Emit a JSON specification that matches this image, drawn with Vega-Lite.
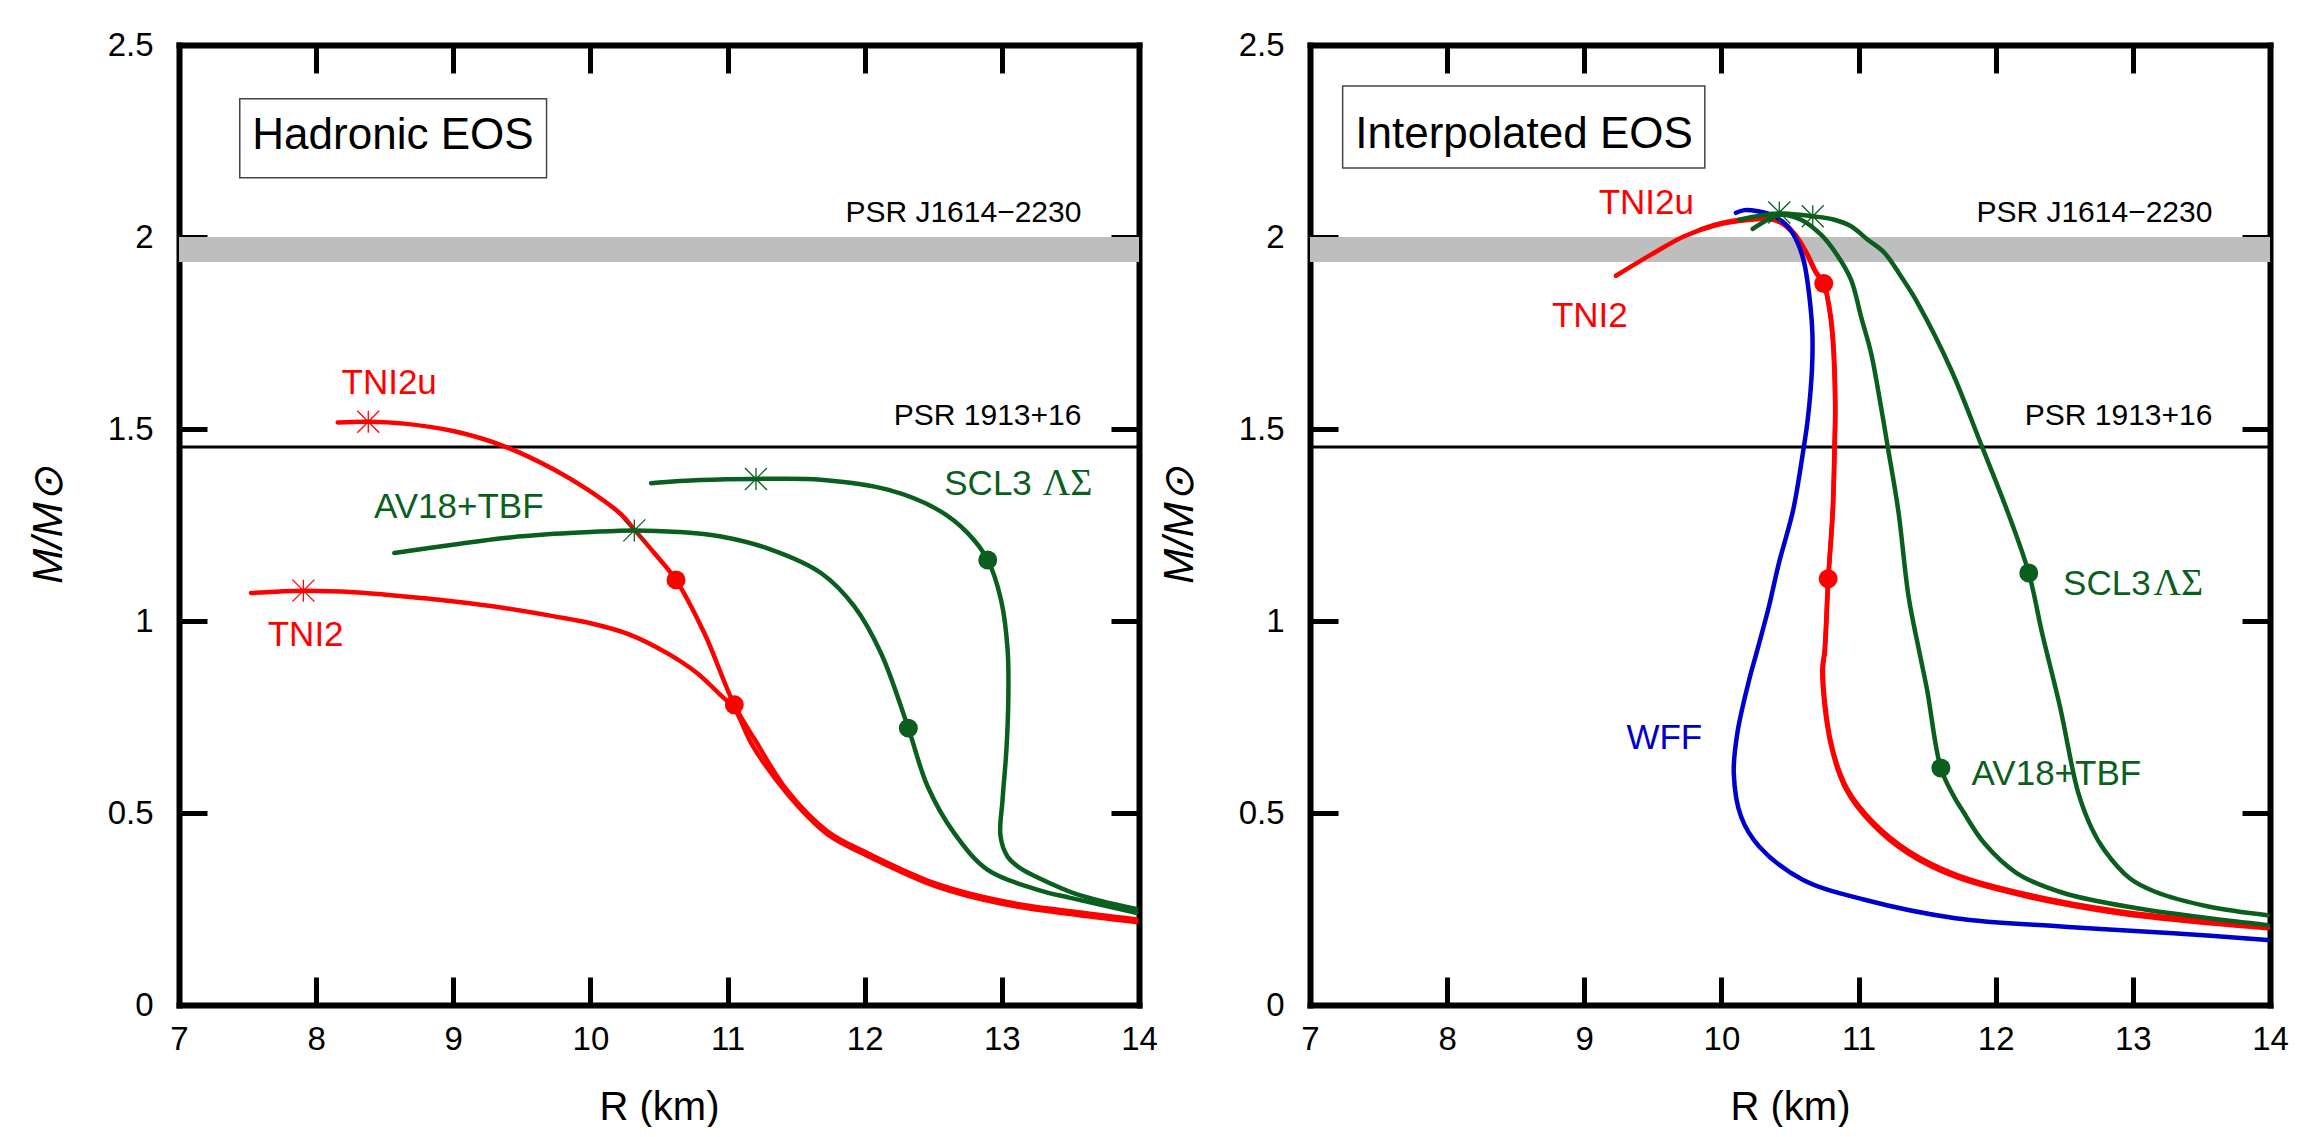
{
  "$schema": "https://vega.github.io/schema/vega-lite/v6.json",
  "background": "white",
  "padding": {"left": 27, "top": 29, "right": 0, "bottom": 0},
  "bounds": "flush",
  "spacing": 171,
  "config": {
    "view": {"stroke": null},
    "font": "Liberation Sans",
    "axis": {
      "grid": false,
      "domain": true,
      "domainColor": "black",
      "domainWidth": 6,
      "domainCap": "square",
      "tickColor": "black",
      "tickWidth": 5,
      "tickSize": -28,
      "labelFont": "Liberation Sans",
      "labelFontSize": 33,
      "labelColor": "black",
      "labelFlush": false,
      "labelOverlap": false,
      "labelBound": false,
      "zindex": 1,
      "titleFont": "Liberation Sans",
      "titleColor": "black",
      "titleFontWeight": "normal"
    }
  },
  "datasets": {
    "bands": [{"R1": 7, "R2": 14, "M1": 1.935, "M2": 2.0}],
    "psr": [{"M": 1.453}],
    "psrText": [
      {"text": "PSR J1614\u22122230", "R": 13.58, "M": 2.038},
      {"text": "PSR 1913+16", "R": 13.58, "M": 1.511}
    ],
    "boxes": [
      {"panel": "L", "title": "Hadronic EOS", "R1": 7.443, "R2": 9.680, "M1": 2.154, "M2": 2.360, "Rt": 8.560, "Mt": 2.228},
      {"panel": "R", "title": "Interpolated EOS", "R1": 7.238, "R2": 9.879, "M1": 2.180, "M2": 2.393, "Rt": 8.561, "Mt": 2.232}
    ],
    "labels": [
      {"panel": "L", "model": "TNI2u", "text": "TNI2u", "R": 8.185, "M": 1.592},
      {"panel": "L", "model": "TNI2", "text": "TNI2", "R": 7.647, "M": 0.934},
      {"panel": "L", "model": "AV18", "text": "AV18+TBF", "R": 8.422, "M": 1.269},
      {"panel": "L", "model": "SCL3", "text": "SCL3", "R": 12.580, "M": 1.329},
      {"panel": "R", "model": "TNI2u", "text": "TNI2u", "R": 9.105, "M": 2.060},
      {"panel": "R", "model": "TNI2", "text": "TNI2", "R": 8.764, "M": 1.766},
      {"panel": "R", "model": "WFF", "text": "WFF", "R": 9.307, "M": 0.667},
      {"panel": "R", "model": "AV18", "text": "AV18+TBF", "R": 11.824, "M": 0.573},
      {"panel": "R", "model": "SCL3", "text": "SCL3", "R": 12.491, "M": 1.069}
    ],
    "greek": [
      {"panel": "L", "model": "SCL3", "text": "\u039b\u03a3", "R": 13.298, "M": 1.329},
      {"panel": "R", "model": "SCL3", "text": "\u039b\u03a3", "R": 13.15, "M": 1.069}
    ],
    "points": [
      {"panel": "L", "model": "TNI2u", "kind": "dot", "R": 10.624, "M": 1.107},
      {"panel": "L", "model": "TNI2", "kind": "dot", "R": 11.049, "M": 0.782},
      {"panel": "L", "model": "AV18", "kind": "dot", "R": 12.318, "M": 0.721},
      {"panel": "L", "model": "SCL3", "kind": "dot", "R": 12.897, "M": 1.159},
      {"panel": "R", "model": "TNI2", "kind": "dot", "R": 10.746, "M": 1.879},
      {"panel": "R", "model": "TNI2u", "kind": "dot", "R": 10.778, "M": 1.110},
      {"panel": "R", "model": "AV18", "kind": "dot", "R": 11.60, "M": 0.617},
      {"panel": "R", "model": "SCL3", "kind": "dot", "R": 12.241, "M": 1.125},
      {"panel": "L", "model": "TNI2u", "kind": "star", "R": 8.380, "M": 1.519},
      {"panel": "L", "model": "TNI2", "kind": "star", "R": 7.907, "M": 1.079},
      {"panel": "L", "model": "AV18", "kind": "star", "R": 10.320, "M": 1.236},
      {"panel": "L", "model": "SCL3", "kind": "star", "R": 11.207, "M": 1.370},
      {"panel": "R", "model": "AV18", "kind": "star", "R": 10.422, "M": 2.064},
      {"panel": "R", "model": "SCL3", "kind": "star", "R": 10.666, "M": 2.054}
    ],
    "curves": [
      {"panel": "L", "model": "TNI2", "seq": 0, "R": 7.525, "M": 1.073},
      {"panel": "L", "model": "TNI2", "seq": 1, "R": 7.907, "M": 1.079},
      {"panel": "L", "model": "TNI2", "seq": 2, "R": 8.279, "M": 1.075},
      {"panel": "L", "model": "TNI2", "seq": 3, "R": 8.643, "M": 1.064},
      {"panel": "L", "model": "TNI2", "seq": 4, "R": 9.008, "M": 1.051},
      {"panel": "L", "model": "TNI2", "seq": 5, "R": 9.372, "M": 1.034},
      {"panel": "L", "model": "TNI2", "seq": 6, "R": 9.737, "M": 1.012},
      {"panel": "L", "model": "TNI2", "seq": 7, "R": 9.990, "M": 0.995},
      {"panel": "L", "model": "TNI2", "seq": 8, "R": 10.277, "M": 0.966},
      {"panel": "L", "model": "TNI2", "seq": 9, "R": 10.556, "M": 0.917},
      {"panel": "L", "model": "TNI2", "seq": 10, "R": 10.779, "M": 0.864},
      {"panel": "L", "model": "TNI2", "seq": 11, "R": 10.946, "M": 0.808},
      {"panel": "L", "model": "TNI2", "seq": 12, "R": 11.049, "M": 0.772},
      {"panel": "L", "model": "TNI2", "seq": 13, "R": 11.18, "M": 0.677},
      {"panel": "L", "model": "TNI2", "seq": 14, "R": 11.44, "M": 0.548},
      {"panel": "L", "model": "TNI2", "seq": 15, "R": 11.73, "M": 0.444},
      {"panel": "L", "model": "TNI2", "seq": 16, "R": 12.03, "M": 0.387},
      {"panel": "L", "model": "TNI2", "seq": 17, "R": 12.52, "M": 0.309},
      {"panel": "L", "model": "TNI2", "seq": 18, "R": 13.01, "M": 0.263},
      {"panel": "L", "model": "TNI2", "seq": 19, "R": 13.5, "M": 0.237},
      {"panel": "L", "model": "TNI2", "seq": 20, "R": 13.98, "M": 0.216},

      {"panel": "L", "model": "TNI2u", "seq": 0, "R": 8.157, "M": 1.517},
      {"panel": "L", "model": "TNI2u", "seq": 1, "R": 8.380, "M": 1.519},
      {"panel": "L", "model": "TNI2u", "seq": 2, "R": 8.643, "M": 1.514},
      {"panel": "L", "model": "TNI2u", "seq": 3, "R": 9.008, "M": 1.494},
      {"panel": "L", "model": "TNI2u", "seq": 4, "R": 9.372, "M": 1.455},
      {"panel": "L", "model": "TNI2u", "seq": 5, "R": 9.737, "M": 1.394},
      {"panel": "L", "model": "TNI2u", "seq": 6, "R": 9.980, "M": 1.342},
      {"panel": "L", "model": "TNI2u", "seq": 7, "R": 10.223, "M": 1.278},
      {"panel": "L", "model": "TNI2u", "seq": 8, "R": 10.320, "M": 1.238},
      {"panel": "L", "model": "TNI2u", "seq": 9, "R": 10.47, "M": 1.175},
      {"panel": "L", "model": "TNI2u", "seq": 10, "R": 10.624, "M": 1.107},
      {"panel": "L", "model": "TNI2u", "seq": 11, "R": 10.831, "M": 0.968},
      {"panel": "L", "model": "TNI2u", "seq": 12, "R": 11.049, "M": 0.782},
      {"panel": "L", "model": "TNI2u", "seq": 13, "R": 11.20, "M": 0.690},
      {"panel": "L", "model": "TNI2u", "seq": 14, "R": 11.44, "M": 0.556},
      {"panel": "L", "model": "TNI2u", "seq": 15, "R": 11.73, "M": 0.452},
      {"panel": "L", "model": "TNI2u", "seq": 16, "R": 12.03, "M": 0.394},
      {"panel": "L", "model": "TNI2u", "seq": 17, "R": 12.52, "M": 0.316},
      {"panel": "L", "model": "TNI2u", "seq": 18, "R": 13.01, "M": 0.270},
      {"panel": "L", "model": "TNI2u", "seq": 19, "R": 13.5, "M": 0.244},
      {"panel": "L", "model": "TNI2u", "seq": 20, "R": 13.98, "M": 0.223},

      {"panel": "L", "model": "AV18", "seq": 0, "R": 8.570, "M": 1.177},
      {"panel": "L", "model": "AV18", "seq": 1, "R": 9.008, "M": 1.199},
      {"panel": "L", "model": "AV18", "seq": 2, "R": 9.372, "M": 1.216},
      {"panel": "L", "model": "AV18", "seq": 3, "R": 9.737, "M": 1.227},
      {"panel": "L", "model": "AV18", "seq": 4, "R": 10.0, "M": 1.232},
      {"panel": "L", "model": "AV18", "seq": 5, "R": 10.320, "M": 1.236},
      {"panel": "L", "model": "AV18", "seq": 6, "R": 10.64, "M": 1.232},
      {"panel": "L", "model": "AV18", "seq": 7, "R": 10.952, "M": 1.220},
      {"panel": "L", "model": "AV18", "seq": 8, "R": 11.317, "M": 1.186},
      {"panel": "L", "model": "AV18", "seq": 9, "R": 11.681, "M": 1.125},
      {"panel": "L", "model": "AV18", "seq": 10, "R": 11.924, "M": 1.038},
      {"panel": "L", "model": "AV18", "seq": 11, "R": 12.119, "M": 0.916},
      {"panel": "L", "model": "AV18", "seq": 12, "R": 12.318, "M": 0.721},
      {"panel": "L", "model": "AV18", "seq": 13, "R": 12.459, "M": 0.569},
      {"panel": "L", "model": "AV18", "seq": 14, "R": 12.654, "M": 0.447},
      {"panel": "L", "model": "AV18", "seq": 15, "R": 12.897, "M": 0.352},
      {"panel": "L", "model": "AV18", "seq": 16, "R": 13.262, "M": 0.300},
      {"panel": "L", "model": "AV18", "seq": 17, "R": 13.5, "M": 0.279},
      {"panel": "L", "model": "AV18", "seq": 18, "R": 13.98, "M": 0.240},

      {"panel": "L", "model": "SCL3", "seq": 0, "R": 10.442, "M": 1.359},
      {"panel": "L", "model": "SCL3", "seq": 1, "R": 10.8, "M": 1.367},
      {"panel": "L", "model": "SCL3", "seq": 2, "R": 11.207, "M": 1.370},
      {"panel": "L", "model": "SCL3", "seq": 3, "R": 11.681, "M": 1.368},
      {"panel": "L", "model": "SCL3", "seq": 4, "R": 12.168, "M": 1.342},
      {"panel": "L", "model": "SCL3", "seq": 5, "R": 12.532, "M": 1.290},
      {"panel": "L", "model": "SCL3", "seq": 6, "R": 12.751, "M": 1.229},
      {"panel": "L", "model": "SCL3", "seq": 7, "R": 12.897, "M": 1.159},
      {"panel": "L", "model": "SCL3", "seq": 8, "R": 12.994, "M": 1.055},
      {"panel": "L", "model": "SCL3", "seq": 9, "R": 13.042, "M": 0.925},
      {"panel": "L", "model": "SCL3", "seq": 10, "R": 13.047, "M": 0.795},
      {"panel": "L", "model": "SCL3", "seq": 11, "R": 13.033, "M": 0.664},
      {"panel": "L", "model": "SCL3", "seq": 12, "R": 13.005, "M": 0.534},
      {"panel": "L", "model": "SCL3", "seq": 13, "R": 12.99, "M": 0.440},
      {"panel": "L", "model": "SCL3", "seq": 14, "R": 13.042, "M": 0.386},
      {"panel": "L", "model": "SCL3", "seq": 15, "R": 13.131, "M": 0.357},
      {"panel": "L", "model": "SCL3", "seq": 16, "R": 13.262, "M": 0.332},
      {"panel": "L", "model": "SCL3", "seq": 17, "R": 13.55, "M": 0.288},
      {"panel": "L", "model": "SCL3", "seq": 18, "R": 13.98, "M": 0.250},

      {"panel": "R", "model": "TNI2", "seq": 0, "R": 9.231, "M": 1.899},
      {"panel": "R", "model": "TNI2", "seq": 1, "R": 9.487, "M": 1.954},
      {"panel": "R", "model": "TNI2", "seq": 2, "R": 9.729, "M": 2.002},
      {"panel": "R", "model": "TNI2", "seq": 3, "R": 9.973, "M": 2.032},
      {"panel": "R", "model": "TNI2", "seq": 4, "R": 10.216, "M": 2.045},
      {"panel": "R", "model": "TNI2", "seq": 5, "R": 10.337, "M": 2.047},
      {"panel": "R", "model": "TNI2", "seq": 6, "R": 10.434, "M": 2.037},
      {"panel": "R", "model": "TNI2", "seq": 7, "R": 10.532, "M": 2.006},
      {"panel": "R", "model": "TNI2", "seq": 8, "R": 10.617, "M": 1.959},
      {"panel": "R", "model": "TNI2", "seq": 9, "R": 10.690, "M": 1.906},
      {"panel": "R", "model": "TNI2", "seq": 10, "R": 10.746, "M": 1.879},
      {"panel": "R", "model": "TNI2", "seq": 11, "R": 10.787, "M": 1.811},
      {"panel": "R", "model": "TNI2", "seq": 12, "R": 10.810, "M": 1.740},
      {"panel": "R", "model": "TNI2", "seq": 13, "R": 10.829, "M": 1.563},
      {"panel": "R", "model": "TNI2", "seq": 14, "R": 10.824, "M": 1.453},
      {"panel": "R", "model": "TNI2", "seq": 15, "R": 10.811, "M": 1.289},
      {"panel": "R", "model": "TNI2", "seq": 16, "R": 10.778, "M": 1.110},
      {"panel": "R", "model": "TNI2", "seq": 17, "R": 10.752, "M": 0.923},
      {"panel": "R", "model": "TNI2", "seq": 18, "R": 10.735, "M": 0.870},
      {"panel": "R", "model": "TNI2", "seq": 19, "R": 10.795, "M": 0.682},
      {"panel": "R", "model": "TNI2", "seq": 20, "R": 10.911, "M": 0.560},
      {"panel": "R", "model": "TNI2", "seq": 21, "R": 11.096, "M": 0.473},
      {"panel": "R", "model": "TNI2", "seq": 22, "R": 11.361, "M": 0.395},
      {"panel": "R", "model": "TNI2", "seq": 23, "R": 11.706, "M": 0.334},
      {"panel": "R", "model": "TNI2", "seq": 24, "R": 12.235, "M": 0.282},
      {"panel": "R", "model": "TNI2", "seq": 25, "R": 12.897, "M": 0.239},
      {"panel": "R", "model": "TNI2", "seq": 26, "R": 13.559, "M": 0.213},
      {"panel": "R", "model": "TNI2", "seq": 27, "R": 13.983, "M": 0.200},

      {"panel": "R", "model": "TNI2u", "seq": 0, "R": 9.85, "M": 2.020},
      {"panel": "R", "model": "TNI2u", "seq": 1, "R": 9.973, "M": 2.034},
      {"panel": "R", "model": "TNI2u", "seq": 2, "R": 10.216, "M": 2.048},
      {"panel": "R", "model": "TNI2u", "seq": 3, "R": 10.337, "M": 2.050},
      {"panel": "R", "model": "TNI2u", "seq": 4, "R": 10.434, "M": 2.040},
      {"panel": "R", "model": "TNI2u", "seq": 5, "R": 10.532, "M": 2.009},
      {"panel": "R", "model": "TNI2u", "seq": 6, "R": 10.617, "M": 1.962},
      {"panel": "R", "model": "TNI2u", "seq": 7, "R": 10.690, "M": 1.909},
      {"panel": "R", "model": "TNI2u", "seq": 8, "R": 10.746, "M": 1.879},
      {"panel": "R", "model": "TNI2u", "seq": 9, "R": 10.790, "M": 1.811},
      {"panel": "R", "model": "TNI2u", "seq": 10, "R": 10.813, "M": 1.740},
      {"panel": "R", "model": "TNI2u", "seq": 11, "R": 10.831, "M": 1.563},
      {"panel": "R", "model": "TNI2u", "seq": 12, "R": 10.826, "M": 1.453},
      {"panel": "R", "model": "TNI2u", "seq": 13, "R": 10.813, "M": 1.289},
      {"panel": "R", "model": "TNI2u", "seq": 14, "R": 10.780, "M": 1.110},
      {"panel": "R", "model": "TNI2u", "seq": 15, "R": 10.755, "M": 0.923},
      {"panel": "R", "model": "TNI2u", "seq": 16, "R": 10.740, "M": 0.870},
      {"panel": "R", "model": "TNI2u", "seq": 17, "R": 10.800, "M": 0.682},
      {"panel": "R", "model": "TNI2u", "seq": 18, "R": 10.918, "M": 0.562},
      {"panel": "R", "model": "TNI2u", "seq": 19, "R": 11.103, "M": 0.477},
      {"panel": "R", "model": "TNI2u", "seq": 20, "R": 11.368, "M": 0.400},
      {"panel": "R", "model": "TNI2u", "seq": 21, "R": 11.713, "M": 0.339},
      {"panel": "R", "model": "TNI2u", "seq": 22, "R": 12.240, "M": 0.287},
      {"panel": "R", "model": "TNI2u", "seq": 23, "R": 12.900, "M": 0.244},
      {"panel": "R", "model": "TNI2u", "seq": 24, "R": 13.560, "M": 0.218},
      {"panel": "R", "model": "TNI2u", "seq": 25, "R": 13.983, "M": 0.205},

      {"panel": "R", "model": "WFF", "seq": 0, "R": 10.106, "M": 2.063},
      {"panel": "R", "model": "WFF", "seq": 1, "R": 10.167, "M": 2.070},
      {"panel": "R", "model": "WFF", "seq": 2, "R": 10.265, "M": 2.067},
      {"panel": "R", "model": "WFF", "seq": 3, "R": 10.386, "M": 2.054},
      {"panel": "R", "model": "WFF", "seq": 4, "R": 10.483, "M": 2.028},
      {"panel": "R", "model": "WFF", "seq": 5, "R": 10.556, "M": 1.985},
      {"panel": "R", "model": "WFF", "seq": 6, "R": 10.604, "M": 1.932},
      {"panel": "R", "model": "WFF", "seq": 7, "R": 10.641, "M": 1.846},
      {"panel": "R", "model": "WFF", "seq": 8, "R": 10.663, "M": 1.750},
      {"panel": "R", "model": "WFF", "seq": 9, "R": 10.660, "M": 1.654},
      {"panel": "R", "model": "WFF", "seq": 10, "R": 10.629, "M": 1.524},
      {"panel": "R", "model": "WFF", "seq": 11, "R": 10.595, "M": 1.440},
      {"panel": "R", "model": "WFF", "seq": 12, "R": 10.523, "M": 1.289},
      {"panel": "R", "model": "WFF", "seq": 13, "R": 10.420, "M": 1.152},
      {"panel": "R", "model": "WFF", "seq": 14, "R": 10.343, "M": 1.033},
      {"panel": "R", "model": "WFF", "seq": 15, "R": 10.262, "M": 0.925},
      {"panel": "R", "model": "WFF", "seq": 16, "R": 10.196, "M": 0.838},
      {"panel": "R", "model": "WFF", "seq": 17, "R": 10.116, "M": 0.708},
      {"panel": "R", "model": "WFF", "seq": 18, "R": 10.090, "M": 0.604},
      {"panel": "R", "model": "WFF", "seq": 19, "R": 10.143, "M": 0.491},
      {"panel": "R", "model": "WFF", "seq": 20, "R": 10.275, "M": 0.413},
      {"panel": "R", "model": "WFF", "seq": 21, "R": 10.593, "M": 0.326},
      {"panel": "R", "model": "WFF", "seq": 22, "R": 11.044, "M": 0.274},
      {"panel": "R", "model": "WFF", "seq": 23, "R": 11.706, "M": 0.226},
      {"panel": "R", "model": "WFF", "seq": 24, "R": 12.500, "M": 0.204},
      {"panel": "R", "model": "WFF", "seq": 25, "R": 13.294, "M": 0.187},
      {"panel": "R", "model": "WFF", "seq": 26, "R": 13.983, "M": 0.169},

      {"panel": "R", "model": "AV18", "seq": 0, "R": 10.228, "M": 2.021},
      {"panel": "R", "model": "AV18", "seq": 1, "R": 10.337, "M": 2.045},
      {"panel": "R", "model": "AV18", "seq": 2, "R": 10.434, "M": 2.058},
      {"panel": "R", "model": "AV18", "seq": 3, "R": 10.58, "M": 2.045},
      {"panel": "R", "model": "AV18", "seq": 4, "R": 10.726, "M": 2.006},
      {"panel": "R", "model": "AV18", "seq": 5, "R": 10.842, "M": 1.954},
      {"panel": "R", "model": "AV18", "seq": 6, "R": 10.945, "M": 1.889},
      {"panel": "R", "model": "AV18", "seq": 7, "R": 11.02, "M": 1.79},
      {"panel": "R", "model": "AV18", "seq": 8, "R": 11.091, "M": 1.698},
      {"panel": "R", "model": "AV18", "seq": 9, "R": 11.161, "M": 1.563},
      {"panel": "R", "model": "AV18", "seq": 10, "R": 11.212, "M": 1.455},
      {"panel": "R", "model": "AV18", "seq": 11, "R": 11.289, "M": 1.289},
      {"panel": "R", "model": "AV18", "seq": 12, "R": 11.366, "M": 1.060},
      {"panel": "R", "model": "AV18", "seq": 13, "R": 11.44, "M": 0.925},
      {"panel": "R", "model": "AV18", "seq": 14, "R": 11.50, "M": 0.820},
      {"panel": "R", "model": "AV18", "seq": 15, "R": 11.60, "M": 0.617},
      {"panel": "R", "model": "AV18", "seq": 16, "R": 11.70, "M": 0.540},
      {"panel": "R", "model": "AV18", "seq": 17, "R": 11.76, "M": 0.505},
      {"panel": "R", "model": "AV18", "seq": 18, "R": 11.917, "M": 0.421},
      {"panel": "R", "model": "AV18", "seq": 19, "R": 12.155, "M": 0.343},
      {"panel": "R", "model": "AV18", "seq": 20, "R": 12.500, "M": 0.291},
      {"panel": "R", "model": "AV18", "seq": 21, "R": 13.030, "M": 0.252},
      {"panel": "R", "model": "AV18", "seq": 22, "R": 13.559, "M": 0.226},
      {"panel": "R", "model": "AV18", "seq": 23, "R": 13.983, "M": 0.208},

      {"panel": "R", "model": "SCL3", "seq": 0, "R": 10.131, "M": 2.045},
      {"panel": "R", "model": "SCL3", "seq": 1, "R": 10.289, "M": 2.056},
      {"panel": "R", "model": "SCL3", "seq": 2, "R": 10.434, "M": 2.061},
      {"panel": "R", "model": "SCL3", "seq": 3, "R": 10.666, "M": 2.054},
      {"panel": "R", "model": "SCL3", "seq": 4, "R": 10.823, "M": 2.045},
      {"panel": "R", "model": "SCL3", "seq": 5, "R": 10.945, "M": 2.028},
      {"panel": "R", "model": "SCL3", "seq": 6, "R": 11.067, "M": 1.993},
      {"panel": "R", "model": "SCL3", "seq": 7, "R": 11.188, "M": 1.959},
      {"panel": "R", "model": "SCL3", "seq": 8, "R": 11.310, "M": 1.897},
      {"panel": "R", "model": "SCL3", "seq": 9, "R": 11.431, "M": 1.828},
      {"panel": "R", "model": "SCL3", "seq": 10, "R": 11.674, "M": 1.655},
      {"panel": "R", "model": "SCL3", "seq": 11, "R": 11.900, "M": 1.454},
      {"panel": "R", "model": "SCL3", "seq": 12, "R": 12.082, "M": 1.289},
      {"panel": "R", "model": "SCL3", "seq": 13, "R": 12.241, "M": 1.125},
      {"panel": "R", "model": "SCL3", "seq": 14, "R": 12.338, "M": 0.969},
      {"panel": "R", "model": "SCL3", "seq": 15, "R": 12.470, "M": 0.775},
      {"panel": "R", "model": "SCL3", "seq": 16, "R": 12.60, "M": 0.555},
      {"panel": "R", "model": "SCL3", "seq": 17, "R": 12.70, "M": 0.460},
      {"panel": "R", "model": "SCL3", "seq": 18, "R": 12.791, "M": 0.404},
      {"panel": "R", "model": "SCL3", "seq": 19, "R": 12.977, "M": 0.330},
      {"panel": "R", "model": "SCL3", "seq": 20, "R": 13.162, "M": 0.295},
      {"panel": "R", "model": "SCL3", "seq": 21, "R": 13.559, "M": 0.256},
      {"panel": "R", "model": "SCL3", "seq": 22, "R": 13.983, "M": 0.234}
    ]
  },
  "hconcat": [
    {
      "width": 960,
      "height": 960,
      "resolve": {"axis": {"x": "independent", "y": "independent"}},
      "layer": [
        {
          "data": {"name": "bands"},
          "mark": {"type": "rect", "color": "#bebebe"},
          "encoding": {
            "x": {"field": "R1", "type": "quantitative", "scale": {"domain": [7, 14], "nice": false, "zero": false},
              "axis": {"orient": "bottom", "values": [7, 8, 9, 10, 11, 12, 13, 14], "labelPadding": 46, "title": "R (km)", "titleFontSize": 40, "titlePadding": 31}},
            "x2": {"field": "R2"},
            "y": {"field": "M1", "type": "quantitative", "scale": {"domain": [0, 2.5], "nice": false, "zero": false},
              "axis": {"orient": "left", "values": [0, 0.5, 1, 1.5, 2, 2.5], "format": "~g", "labelPadding": 54, "title": "M/M\u2299", "titleFontSize": 42, "titleFontStyle": "italic", "titlePadding": 37}},
            "y2": {"field": "M2"}
          }
        },
        {
          "data": {"name": "psr"},
          "mark": {"type": "rule", "color": "black", "strokeWidth": 3},
          "encoding": {
            "y": {"field": "M", "type": "quantitative", "scale": {"domain": [0, 2.5], "nice": false, "zero": false},
              "axis": {"orient": "right", "values": [0, 0.5, 1, 1.5, 2, 2.5], "labels": false, "title": null}}
          }
        },
        {
          "data": {"name": "psrText"},
          "mark": {"type": "text", "align": "right", "baseline": "alphabetic", "font": "Liberation Sans", "fontSize": 30, "color": "black"},
          "encoding": {
            "x": {"field": "R", "type": "quantitative", "scale": {"domain": [7, 14], "nice": false, "zero": false}, "axis": null},
            "y": {"field": "M", "type": "quantitative", "scale": {"domain": [0, 2.5], "nice": false, "zero": false}, "axis": null},
            "text": {"field": "text"}
          }
        },
        {
          "data": {"name": "boxes"},
          "transform": [{"filter": "datum.panel === 'L'"}],
          "mark": {"type": "rect", "fill": "white", "stroke": "#444444", "strokeWidth": 1.5},
          "encoding": {
            "x": {"field": "R1", "type": "quantitative", "scale": {"domain": [7, 14], "nice": false, "zero": false}, "axis": null},
            "x2": {"field": "R2"},
            "y": {"field": "M1", "type": "quantitative", "scale": {"domain": [0, 2.5], "nice": false, "zero": false}, "axis": null},
            "y2": {"field": "M2"}
          }
        },
        {
          "data": {"name": "boxes"},
          "transform": [{"filter": "datum.panel === 'L'"}],
          "mark": {"type": "text", "align": "center", "baseline": "alphabetic", "font": "Liberation Sans", "fontSize": 44, "color": "black"},
          "encoding": {
            "x": {"field": "Rt", "type": "quantitative", "scale": {"domain": [7, 14], "nice": false, "zero": false}, "axis": null},
            "y": {"field": "Mt", "type": "quantitative", "scale": {"domain": [0, 2.5], "nice": false, "zero": false}, "axis": null},
            "text": {"field": "title"}
          }
        },
        {
          "data": {"name": "curves"},
          "transform": [{"filter": "datum.panel === 'L'"}],
          "mark": {"type": "line", "strokeJoin": "round", "strokeCap": "round", "interpolate": "catmull-rom"},
          "encoding": {
            "x": {"field": "R", "type": "quantitative", "scale": {"domain": [7, 14], "nice": false, "zero": false},
              "axis": {"orient": "top", "values": [7, 8, 9, 10, 11, 12, 13, 14], "labels": false, "title": null}},
            "y": {"field": "M", "type": "quantitative", "scale": {"domain": [0, 2.5], "nice": false, "zero": false}, "axis": null},
            "order": {"field": "seq", "type": "quantitative"},
            "color": {"field": "model", "type": "nominal", "legend": null,
              "scale": {"domain": ["TNI2", "TNI2u", "AV18", "SCL3", "WFF"], "range": ["#ff0000", "#ff0000", "#0b5f1e", "#0b5f1e", "#0000cc"]}},
            "strokeWidth": {"field": "model", "type": "nominal", "legend": null,
              "scale": {"domain": ["TNI2", "TNI2u", "AV18", "SCL3", "WFF"], "range": [4.5, 4.5, 3.6, 3.6, 3.2]}}
          }
        },
        {
          "data": {"name": "points"},
          "transform": [{"filter": "datum.panel === 'L' && datum.kind === 'dot'"}],
          "mark": {"type": "point", "shape": "circle", "filled": true, "size": 360, "opacity": 1},
          "encoding": {
            "x": {"field": "R", "type": "quantitative", "scale": {"domain": [7, 14], "nice": false, "zero": false}, "axis": null},
            "y": {"field": "M", "type": "quantitative", "scale": {"domain": [0, 2.5], "nice": false, "zero": false}, "axis": null},
            "color": {"field": "model", "type": "nominal", "legend": null,
              "scale": {"domain": ["TNI2", "TNI2u", "AV18", "SCL3", "WFF"], "range": ["#ff0000", "#ff0000", "#0b5f1e", "#0b5f1e", "#0000cc"]}}
          }
        },
        {
          "data": {"name": "points"},
          "transform": [{"filter": "datum.panel === 'L' && datum.kind === 'star'"}],
          "mark": {"type": "point", "shape": "M-1,-1L1,1M-1,1L1,-1M0,-1L0,1M-1,0L1,0", "filled": false, "size": 484, "strokeWidth": 1.3, "opacity": 1},
          "encoding": {
            "x": {"field": "R", "type": "quantitative", "scale": {"domain": [7, 14], "nice": false, "zero": false}, "axis": null},
            "y": {"field": "M", "type": "quantitative", "scale": {"domain": [0, 2.5], "nice": false, "zero": false}, "axis": null},
            "color": {"field": "model", "type": "nominal", "legend": null,
              "scale": {"domain": ["TNI2", "TNI2u", "AV18", "SCL3", "WFF"], "range": ["#ff0000", "#ff0000", "#0b5f1e", "#0b5f1e", "#0000cc"]}}
          }
        },
        {
          "data": {"name": "labels"},
          "transform": [{"filter": "datum.panel === 'L'"}],
          "mark": {"type": "text", "align": "left", "baseline": "alphabetic", "font": "Liberation Sans", "fontSize": 35},
          "encoding": {
            "x": {"field": "R", "type": "quantitative", "scale": {"domain": [7, 14], "nice": false, "zero": false}, "axis": null},
            "y": {"field": "M", "type": "quantitative", "scale": {"domain": [0, 2.5], "nice": false, "zero": false}, "axis": null},
            "text": {"field": "text"},
            "color": {"field": "model", "type": "nominal", "legend": null,
              "scale": {"domain": ["TNI2", "TNI2u", "AV18", "SCL3", "WFF"], "range": ["#ff0000", "#ff0000", "#0b5f1e", "#0b5f1e", "#0000cc"]}}
          }
        },
        {
          "data": {"name": "greek"},
          "transform": [{"filter": "datum.panel === 'L'"}],
          "mark": {"type": "text", "align": "left", "baseline": "alphabetic", "font": "Liberation Serif", "fontSize": 38},
          "encoding": {
            "x": {"field": "R", "type": "quantitative", "scale": {"domain": [7, 14], "nice": false, "zero": false}, "axis": null},
            "y": {"field": "M", "type": "quantitative", "scale": {"domain": [0, 2.5], "nice": false, "zero": false}, "axis": null},
            "text": {"field": "text"},
            "color": {"field": "model", "type": "nominal", "legend": null,
              "scale": {"domain": ["TNI2", "TNI2u", "AV18", "SCL3", "WFF"], "range": ["#ff0000", "#ff0000", "#0b5f1e", "#0b5f1e", "#0000cc"]}}
          }
        }
      ]
    },
    {
      "width": 960,
      "height": 960,
      "resolve": {"axis": {"x": "independent", "y": "independent"}},
      "layer": [
        {
          "data": {"name": "bands"},
          "mark": {"type": "rect", "color": "#bebebe"},
          "encoding": {
            "x": {"field": "R1", "type": "quantitative", "scale": {"domain": [7, 14], "nice": false, "zero": false},
              "axis": {"orient": "bottom", "values": [7, 8, 9, 10, 11, 12, 13, 14], "labelPadding": 46, "title": "R (km)", "titleFontSize": 40, "titlePadding": 31}},
            "x2": {"field": "R2"},
            "y": {"field": "M1", "type": "quantitative", "scale": {"domain": [0, 2.5], "nice": false, "zero": false},
              "axis": {"orient": "left", "values": [0, 0.5, 1, 1.5, 2, 2.5], "format": "~g", "labelPadding": 54, "title": "M/M\u2299", "titleFontSize": 42, "titleFontStyle": "italic", "titlePadding": 37}},
            "y2": {"field": "M2"}
          }
        },
        {
          "data": {"name": "psr"},
          "mark": {"type": "rule", "color": "black", "strokeWidth": 3},
          "encoding": {
            "y": {"field": "M", "type": "quantitative", "scale": {"domain": [0, 2.5], "nice": false, "zero": false},
              "axis": {"orient": "right", "values": [0, 0.5, 1, 1.5, 2, 2.5], "labels": false, "title": null}}
          }
        },
        {
          "data": {"name": "psrText"},
          "mark": {"type": "text", "align": "right", "baseline": "alphabetic", "font": "Liberation Sans", "fontSize": 30, "color": "black"},
          "encoding": {
            "x": {"field": "R", "type": "quantitative", "scale": {"domain": [7, 14], "nice": false, "zero": false}, "axis": null},
            "y": {"field": "M", "type": "quantitative", "scale": {"domain": [0, 2.5], "nice": false, "zero": false}, "axis": null},
            "text": {"field": "text"}
          }
        },
        {
          "data": {"name": "boxes"},
          "transform": [{"filter": "datum.panel === 'R'"}],
          "mark": {"type": "rect", "fill": "white", "stroke": "#444444", "strokeWidth": 1.5},
          "encoding": {
            "x": {"field": "R1", "type": "quantitative", "scale": {"domain": [7, 14], "nice": false, "zero": false}, "axis": null},
            "x2": {"field": "R2"},
            "y": {"field": "M1", "type": "quantitative", "scale": {"domain": [0, 2.5], "nice": false, "zero": false}, "axis": null},
            "y2": {"field": "M2"}
          }
        },
        {
          "data": {"name": "boxes"},
          "transform": [{"filter": "datum.panel === 'R'"}],
          "mark": {"type": "text", "align": "center", "baseline": "alphabetic", "font": "Liberation Sans", "fontSize": 44, "color": "black"},
          "encoding": {
            "x": {"field": "Rt", "type": "quantitative", "scale": {"domain": [7, 14], "nice": false, "zero": false}, "axis": null},
            "y": {"field": "Mt", "type": "quantitative", "scale": {"domain": [0, 2.5], "nice": false, "zero": false}, "axis": null},
            "text": {"field": "title"}
          }
        },
        {
          "data": {"name": "curves"},
          "transform": [{"filter": "datum.panel === 'R'"}],
          "mark": {"type": "line", "strokeJoin": "round", "strokeCap": "round", "interpolate": "catmull-rom"},
          "encoding": {
            "x": {"field": "R", "type": "quantitative", "scale": {"domain": [7, 14], "nice": false, "zero": false},
              "axis": {"orient": "top", "values": [7, 8, 9, 10, 11, 12, 13, 14], "labels": false, "title": null}},
            "y": {"field": "M", "type": "quantitative", "scale": {"domain": [0, 2.5], "nice": false, "zero": false}, "axis": null},
            "order": {"field": "seq", "type": "quantitative"},
            "color": {"field": "model", "type": "nominal", "legend": null,
              "scale": {"domain": ["TNI2", "TNI2u", "AV18", "SCL3", "WFF"], "range": ["#ff0000", "#ff0000", "#0b5f1e", "#0b5f1e", "#0000cc"]}},
            "strokeWidth": {"field": "model", "type": "nominal", "legend": null,
              "scale": {"domain": ["TNI2", "TNI2u", "AV18", "SCL3", "WFF"], "range": [4.5, 4.5, 3.6, 3.6, 3.2]}}
          }
        },
        {
          "data": {"name": "points"},
          "transform": [{"filter": "datum.panel === 'R' && datum.kind === 'dot'"}],
          "mark": {"type": "point", "shape": "circle", "filled": true, "size": 360, "opacity": 1},
          "encoding": {
            "x": {"field": "R", "type": "quantitative", "scale": {"domain": [7, 14], "nice": false, "zero": false}, "axis": null},
            "y": {"field": "M", "type": "quantitative", "scale": {"domain": [0, 2.5], "nice": false, "zero": false}, "axis": null},
            "color": {"field": "model", "type": "nominal", "legend": null,
              "scale": {"domain": ["TNI2", "TNI2u", "AV18", "SCL3", "WFF"], "range": ["#ff0000", "#ff0000", "#0b5f1e", "#0b5f1e", "#0000cc"]}}
          }
        },
        {
          "data": {"name": "points"},
          "transform": [{"filter": "datum.panel === 'R' && datum.kind === 'star'"}],
          "mark": {"type": "point", "shape": "M-1,-1L1,1M-1,1L1,-1M0,-1L0,1M-1,0L1,0", "filled": false, "size": 484, "strokeWidth": 1.3, "opacity": 1},
          "encoding": {
            "x": {"field": "R", "type": "quantitative", "scale": {"domain": [7, 14], "nice": false, "zero": false}, "axis": null},
            "y": {"field": "M", "type": "quantitative", "scale": {"domain": [0, 2.5], "nice": false, "zero": false}, "axis": null},
            "color": {"field": "model", "type": "nominal", "legend": null,
              "scale": {"domain": ["TNI2", "TNI2u", "AV18", "SCL3", "WFF"], "range": ["#ff0000", "#ff0000", "#0b5f1e", "#0b5f1e", "#0000cc"]}}
          }
        },
        {
          "data": {"name": "labels"},
          "transform": [{"filter": "datum.panel === 'R'"}],
          "mark": {"type": "text", "align": "left", "baseline": "alphabetic", "font": "Liberation Sans", "fontSize": 35},
          "encoding": {
            "x": {"field": "R", "type": "quantitative", "scale": {"domain": [7, 14], "nice": false, "zero": false}, "axis": null},
            "y": {"field": "M", "type": "quantitative", "scale": {"domain": [0, 2.5], "nice": false, "zero": false}, "axis": null},
            "text": {"field": "text"},
            "color": {"field": "model", "type": "nominal", "legend": null,
              "scale": {"domain": ["TNI2", "TNI2u", "AV18", "SCL3", "WFF"], "range": ["#ff0000", "#ff0000", "#0b5f1e", "#0b5f1e", "#0000cc"]}}
          }
        },
        {
          "data": {"name": "greek"},
          "transform": [{"filter": "datum.panel === 'R'"}],
          "mark": {"type": "text", "align": "left", "baseline": "alphabetic", "font": "Liberation Serif", "fontSize": 38},
          "encoding": {
            "x": {"field": "R", "type": "quantitative", "scale": {"domain": [7, 14], "nice": false, "zero": false}, "axis": null},
            "y": {"field": "M", "type": "quantitative", "scale": {"domain": [0, 2.5], "nice": false, "zero": false}, "axis": null},
            "text": {"field": "text"},
            "color": {"field": "model", "type": "nominal", "legend": null,
              "scale": {"domain": ["TNI2", "TNI2u", "AV18", "SCL3", "WFF"], "range": ["#ff0000", "#ff0000", "#0b5f1e", "#0b5f1e", "#0000cc"]}}
          }
        }
      ]
    }
  ]
}
